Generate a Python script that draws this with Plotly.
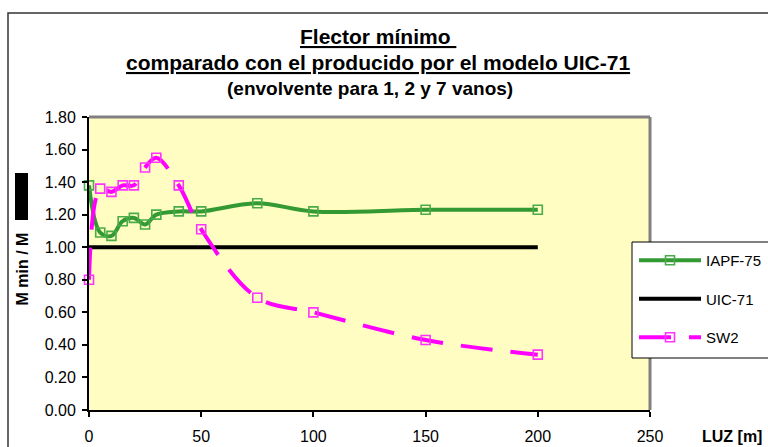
import plotly.graph_objects as go

# ---- data ----
luz = [0, 5, 10, 15, 20, 25, 30, 40, 50, 75, 100, 150, 200]
iapf75 = [1.38, 1.09, 1.07, 1.16, 1.18, 1.14, 1.20, 1.22, 1.22, 1.27, 1.22, 1.23, 1.23]
uic71 = [1.00] * len(luz)
sw2 = [0.80, 1.36, 1.34, 1.38, 1.38, 1.49, 1.55, 1.38, 1.11, 0.69, 0.60, 0.43, 0.34]

x_ticks = [0, 50, 100, 150, 200, 250]
y_ticks = [0.0, 0.2, 0.4, 0.6, 0.8, 1.0, 1.2, 1.4, 1.6, 1.8]

title1 = "Flector mínimo "
title2 = "comparado con el producido por el modelo UIC-71"
title3 = "(envolvente para 1, 2 y 7 vanos)"

FONT = "Liberation Sans, Arial, sans-serif"

# plot-area geometry in pixels (for converting decorative shapes)
L, R, T, B = 89, 650, 117, 410
W, H = R - L, B - T


def px(xp):
    return (xp - L) / W


def py(yp):
    return (B - yp) / H


fig = go.Figure()
fig.add_trace(go.Scatter(
    x=luz, y=iapf75, name="IAPF-75", mode="lines+markers",
    line=dict(color="#339933", width=4, shape="spline", smoothing=1.0),
    marker=dict(symbol="square-open", size=9, color="#4aab4a", line=dict(width=1.6, color="#4aab4a")),
    legendgroup="a", cliponaxis=False,
))
fig.add_trace(go.Scatter(
    x=[luz[0], luz[-1]], y=[uic71[0], uic71[-1]], name="UIC-71", mode="lines",
    line=dict(color="black", width=4),
    legendgroup="b", cliponaxis=False,
))
fig.add_trace(go.Scatter(
    x=luz, y=sw2, name="SW2", mode="lines+markers",
    line=dict(color="#ff00ff", width=4, shape="spline", smoothing=1.0, dash="32px,18px"),
    marker=dict(symbol="square-open", size=9, color="#ff33ff", line=dict(width=1.6, color="#ff33ff")),
    legendgroup="c", cliponaxis=False,
))

shapes = [
    # outer chart frame
    dict(type="rect", xref="paper", yref="paper", x0=px(8), x1=px(820), y0=py(13), y1=py(500),
         line=dict(color="#333333", width=1.5), fillcolor="rgba(0,0,0,0)", layer="below"),
    # grey plot border top / right
    dict(type="line", xref="paper", yref="paper", x0=0, x1=1, y0=1, y1=1,
         line=dict(color="#808080", width=3)),
    dict(type="line", xref="paper", yref="paper", x0=1, x1=1, y0=0, y1=1,
         line=dict(color="#808080", width=3)),
    # black block left of axis title
    dict(type="rect", xref="paper", yref="paper", x0=px(15), x1=px(28), y0=py(220), y1=py(173),
         line=dict(width=0), fillcolor="black"),
    # legend box
    dict(type="rect", xref="paper", yref="paper", x0=px(632), x1=px(820), y0=py(358), y1=py(242),
         line=dict(color="black", width=1), fillcolor="white", layer="above"),
]

annotations = [
    dict(text="<b><u>" + title1 + "</u></b>", x=px(378), y=py(36), xref="paper", yref="paper",
         showarrow=False, xanchor="center", yanchor="middle", font=dict(family=FONT, size=21, color="black")),
    dict(text="<b><u>" + title2 + "</u></b>", x=px(378), y=py(62), xref="paper", yref="paper",
         showarrow=False, xanchor="center", yanchor="middle", font=dict(family=FONT, size=21, color="black")),
    dict(text="<b>" + title3 + "</b>", x=px(370), y=py(88), xref="paper", yref="paper",
         showarrow=False, xanchor="center", yanchor="middle", font=dict(family=FONT, size=19, color="black")),
    dict(text="<b>LUZ [m]</b>", x=px(732), y=py(436), xref="paper", yref="paper",
         showarrow=False, xanchor="center", yanchor="middle", font=dict(family=FONT, size=16, color="black")),
    dict(text="<b>M min / M</b>", x=px(21.5), y=py(269), xref="paper", yref="paper", textangle=-90,
         showarrow=False, xanchor="center", yanchor="middle", font=dict(family=FONT, size=16, color="black")),
]

fig.update_layout(
    width=768, height=447,
    margin=dict(l=L, r=768 - R, t=T, b=447 - B, autoexpand=False),
    paper_bgcolor="white", plot_bgcolor="#FFFDC2",
    font=dict(family=FONT, size=16, color="black"),
    shapes=shapes, annotations=annotations,
    showlegend=True,
    legend=dict(x=px(634), y=py(244), xanchor="left", yanchor="top",
                bgcolor="rgba(0,0,0,0)", borderwidth=0, itemwidth=62,
                tracegroupgap=16, font=dict(family=FONT, size=15, color="black")),
    xaxis=dict(range=[0, 250], tickvals=x_ticks, ticktext=[str(v) for v in x_ticks],
               showgrid=False, zeroline=False, showline=True, linecolor="black", linewidth=2,
               ticks="outside", ticklen=5, tickwidth=1.5, tickcolor="black",
               ticklabelstandoff=6, fixedrange=True),
    yaxis=dict(range=[0, 1.8], tickvals=y_ticks, ticktext=[f"{v:.2f}" for v in y_ticks],
               showgrid=False, zeroline=False, showline=True, linecolor="black", linewidth=2,
               ticks="outside", ticklen=5, tickwidth=1.5, tickcolor="black",
               ticklabelstandoff=3, fixedrange=True),
)

fig.write_html("out.html")
